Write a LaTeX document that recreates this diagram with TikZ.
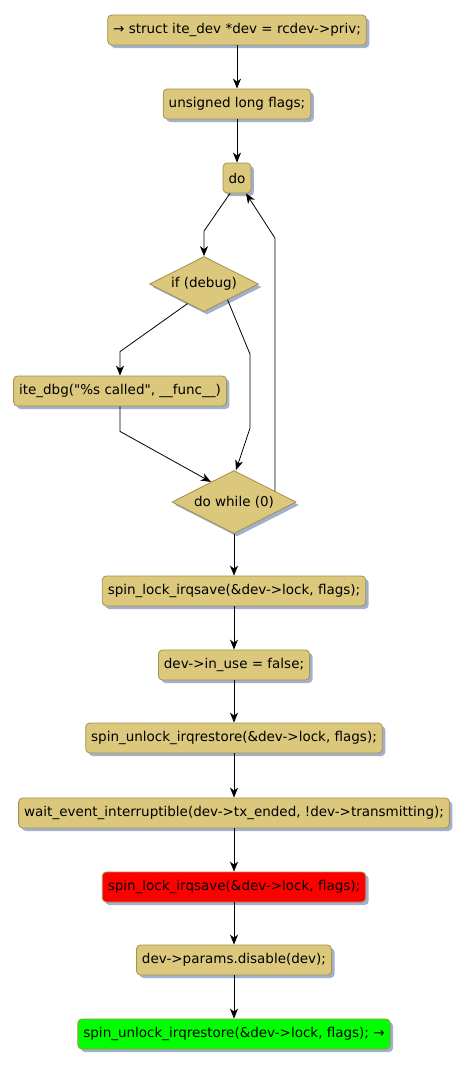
\documentclass[tikz,border=0pt]{standalone}
\usepackage{fontspec}
\setmainfont{DejaVu Sans}
\usepackage{tikz}
\usetikzlibrary{shapes.geometric, arrows.meta, positioning, calc, shadows}
\definecolor{actfill}{RGB}{219, 200, 125}
\definecolor{actborder}{RGB}{165, 145, 75}
\definecolor{shadowblue}{RGB}{160, 176, 206}
\definecolor{hotred}{RGB}{255, 0, 0}
\definecolor{okgreen}{RGB}{0, 255, 0}

\tikzset{
    actbox/.style={draw=actborder, line width=0.8pt, rounded corners=4pt, fill=actfill,
        minimum height=30pt, inner xsep=5.5pt, inner ysep=0pt, font=\fontsize{13.5pt}{16pt}\selectfont,
        drop shadow={shadow xshift=3pt, shadow yshift=-3pt, fill=shadowblue, opacity=1}},
    decision/.style={draw=actborder, line width=0.8pt, fill=actfill, shape=diamond, aspect=2,
        inner sep=0pt, font=\fontsize{13.5pt}{16pt}\selectfont,
        drop shadow={shadow xshift=3pt, shadow yshift=-3pt, fill=shadowblue, opacity=1}},
    flow/.style={-{Stealth[length=10pt, width=8pt, inset=3pt]}, line width=0.8pt, black}
}

\begin{document}
\begin{tikzpicture}[x=1pt, y=1pt]
        \useasboundingbox (0,0) rectangle (468,-1069);
        \node[actbox] (entry) at (237,-30) {→ struct ite\_dev *dev = rcdev->priv;};
        \node[actbox] (flags) at (237,-104) {unsigned long flags;};
        \node[actbox] (doloop) at (237,-178) {do};
        \node[decision, minimum width=109pt, minimum height=55pt] (ifdebug) at (204,-284) {if (debug)};
        \node[actbox] (dbgcall) at (120,-391) {ite\_dbg(\textquotedbl\%s called\textquotedbl, \_\_func\_\_)};
        \node[decision, minimum width=124pt, minimum height=63pt] (dowhile) at (234,-502) {do while (0)};
        \node[actbox] (lockone) at (234,-591) {spin\_lock\_irqsave(\&dev->lock, flags);};
        \node[actbox] (inuse) at (234,-665) {dev->in\_use = false;};
        \node[actbox] (unlockone) at (234,-738) {spin\_unlock\_irqrestore(\&dev->lock, flags);};
        \node[actbox] (waitev) at (234,-813) {wait\_event\_interruptible(dev->tx\_ended, !dev->transmitting);};
        \node[actbox, fill=hotred] (locktwo) at (234,-887) {spin\_lock\_irqsave(\&dev->lock, flags);};
        \node[actbox] (disable) at (234,-960) {dev->params.disable(dev);};
        \node[actbox, fill=okgreen] (unlocktwo) at (234,-1034) {spin\_unlock\_irqrestore(\&dev->lock, flags); →};

        \draw[flow] (entry) -- (flags);
        \draw[flow] (flags) -- (doloop);
        \draw[flow] ([xshift=-7pt]doloop.south) -- ($(ifdebug.north)+(0,25)$) -- (ifdebug.north);
        \draw[flow] (ifdebug.-130) -- ($(dbgcall.north)+(0,24)$) -- (dbgcall.north);
        \draw[flow] (ifdebug.-34) -- ($(dowhile.north)+(16,116)$) -- ($(dowhile.north)+(16,42)$) -- ([xshift=2pt]dowhile.north);
        \draw[flow] (dbgcall.south) -- ++(0,-25) -- (dowhile.139);
        \draw[flow] (dowhile.15) -- ++(0,253) -- ([xshift=9pt]doloop.south);
        \draw[flow] (dowhile) -- (lockone);
        \draw[flow] (lockone) -- (inuse);
        \draw[flow] (inuse) -- (unlockone);
        \draw[flow] (unlockone) -- (waitev);
        \draw[flow] (waitev) -- (locktwo);
        \draw[flow] (locktwo) -- (disable);
        \draw[flow] (disable) -- (unlocktwo);
    \end{tikzpicture}
\end{document}
